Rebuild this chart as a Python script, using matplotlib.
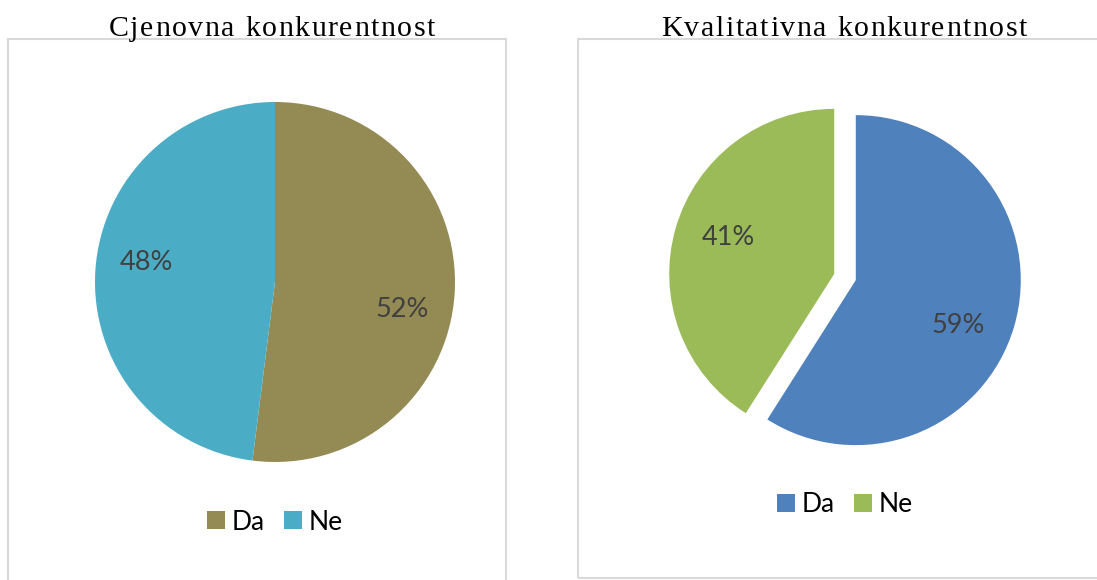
import numpy as np
import matplotlib.pyplot as plt
from matplotlib.patches import Rectangle

# survey answers (share of respondents)
categories = ["Da", "Ne"]
price_values = [52, 48]
quality_values = [59, 41]
price_title = "Cjenovna konkurentnost"
quality_title = "Kvalitativna konkurentnost"

price_colors = ["#948A54", "#4BACC6"]
quality_colors = ["#4F81BD", "#9BBB59"]

W, H = 1097, 580
fig = plt.figure(figsize=(W / 100, H / 100), dpi=100)
fig.patch.set_facecolor("white")
renderer = fig.canvas.get_renderer()

label_font = "Lato"


def px_axes(cx, cy, half):
    # square axes in pixel units, y measured from the top
    return fig.add_axes([(cx - half) / W, 1 - (cy + half) / H, 2 * half / W, 2 * half / H])


def panel_frame(x0, y0, x1, y1):
    fig.add_artist(Rectangle((x0 / W, 1 - y1 / H), (x1 - x0) / W, (y1 - y0) / H,
                             transform=fig.transFigure, fill=False,
                             edgecolor="#D9D9D9", linewidth=1.5))


def spaced_title(text, cx, cy, size=21.5, spacing=1.6):
    # draw the title letter by letter so it can be tracked out a little
    props = dict(family="Liberation Serif", fontsize=size, va="baseline", ha="left")
    widths = []
    for ch in text:
        t = fig.text(0, 0, ch if ch != " " else "n", **props)
        w = t.get_window_extent(renderer).width
        if ch == " ":
            w *= 0.5
        widths.append(w)
        t.remove()
    total = sum(widths) + spacing * (len(text) - 1)
    x = cx - total / 2
    for ch, w in zip(text, widths):
        if ch != " ":
            fig.text(x / W, 1 - cy / H, ch, **props)
        x += w + spacing


def pct_label(p):
    return f"{round(p):d}%"


def draw_pie(cx, cy, radius, values, colors, explode, pctdist, shifts,
             title, title_x, legend_y):
    half = 220
    ax = px_axes(cx, cy, half)
    wedges, texts, autotexts = ax.pie(
        values, colors=colors, startangle=90, counterclock=False,
        explode=explode, autopct=pct_label, pctdistance=pctdist,
        wedgeprops=dict(linewidth=0),
        textprops=dict(fontsize=19.5, color="#404040", family=label_font))
    # nudge each percentage a few degrees clockwise inside its slice
    for w, t, s in zip(wedges, autotexts, shifts):
        wx, wy = w.center
        x, y = t.get_position()
        a = np.deg2rad(s)
        dx, dy = x - wx, y - wy
        t.set_position((wx + dx * np.cos(a) - dy * np.sin(a),
                        wy + dx * np.sin(a) + dy * np.cos(a)))
    lim = half / radius
    ax.set_xlim(-lim, lim)
    ax.set_ylim(-lim, lim)
    ax.set_aspect("equal")
    ax.axis("off")

    spaced_title(title, title_x, 36)

    fig.legend(wedges, categories, loc="center", bbox_to_anchor=(cx / W, 1 - legend_y / H),
               ncol=2, frameon=False, handlelength=0.66, handleheight=0.66,
               handletextpad=0.25, columnspacing=0.75,
               prop=dict(family=label_font, size=19))


panel_frame(8, 39, 506, 590)
panel_frame(578, 39, 1110, 578)

draw_pie(275, 282, 180, price_values, price_colors, [0, 0], 0.72, [-8.5, -5],
         price_title, 272, 522)
draw_pie(845, 277, 165, quality_values, quality_colors, [0.068, 0.068], 0.68, [-7.5, -2.5],
         quality_title, 844, 505)

fig.savefig("out.png", dpi=100)
